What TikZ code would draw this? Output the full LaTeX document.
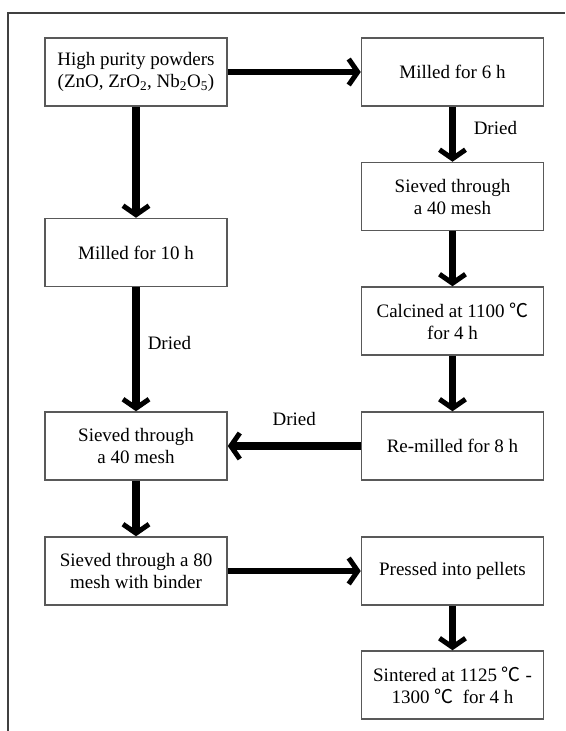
\documentclass[tikz,border=0pt]{standalone}
\usepackage{fontspec}
\setmainfont{Liberation Serif}
\newfontfamily\cjk{Noto Sans CJK SC}
\usetikzlibrary{arrows.meta}
\newcommand{\degC}{{\cjk ℃}}

\begin{document}
\begin{tikzpicture}[x=1pt,y=-1pt,font=\fontsize{19}{22}\selectfont,
 proc/.style={draw=black!65,line width=1.5pt,minimum width=182pt,minimum height=68pt,align=center,inner sep=0pt},
 flow/.style={line width=7.5pt,-{Straight Barb[length=9pt,width=26pt,line width=5pt]}},
 thinflow/.style={flow,line width=6pt},
 lbl/.style={inner sep=0pt}]
 \def\xl{136}\def\xr{452.5}
 \useasboundingbox (0,0) rectangle (565,731);
 % outer frame
 \draw[black!75,line width=2pt] (8,731)--(8,13)--(565,13);
 % left column
 \node[proc] (pow) at (\xl,72) {High purity powders\\(ZnO, ZrO\textsubscript{2}, Nb\textsubscript{2}O\textsubscript{5})};
 \node[proc] (mill10) at (\xl,252.5) {Milled for 10 h};
 \node[proc] (sieveL) at (\xl,446) {Sieved through\\a 40 mesh};
 \node[proc] (sieve80) at (\xl,571) {Sieved through a 80\\mesh with binder};
 % right column
 \node[proc] (mill6) at (\xr,72) {Milled for 6 h};
 \node[proc] (sieveR) at (\xr,196.5) {Sieved through\\a 40 mesh};
 \node[proc] (calc) at (\xr,321) {Calcined at 1100 \degC\\for 4 h};
 \node[proc] (remill) at (\xr,446) {Re-milled for 8 h};
 \node[proc] (press) at (\xr,571) {Pressed into pellets};
 \node[proc] (sinter) at (\xr,685) {Sintered at 1125 \degC\ -\\1300 \degC\ \ for 4 h};
 % arrows
 \draw[thinflow] (pow)--(mill6);
 \draw[flow] (pow)--(mill10);
 \draw[flow] (mill10)--(sieveL) node[lbl,midway,right=8pt,yshift=6.5pt] (dryL) {Dried};
 \draw[flow] (mill6)--(sieveR) node[lbl,midway,right=17.5pt,yshift=6pt] (dryR) {Dried};
 \foreach \a/\b in {sieveR/calc,calc/remill,sieveL/sieve80,press/sinter}
  \draw[flow] (\a)--(\b);
 \draw[flow] (remill)--(sieveL) node[lbl,midway,above=17pt] (dryM) {Dried};
 \draw[thinflow] (sieve80)--(press);
\end{tikzpicture}
\end{document}
